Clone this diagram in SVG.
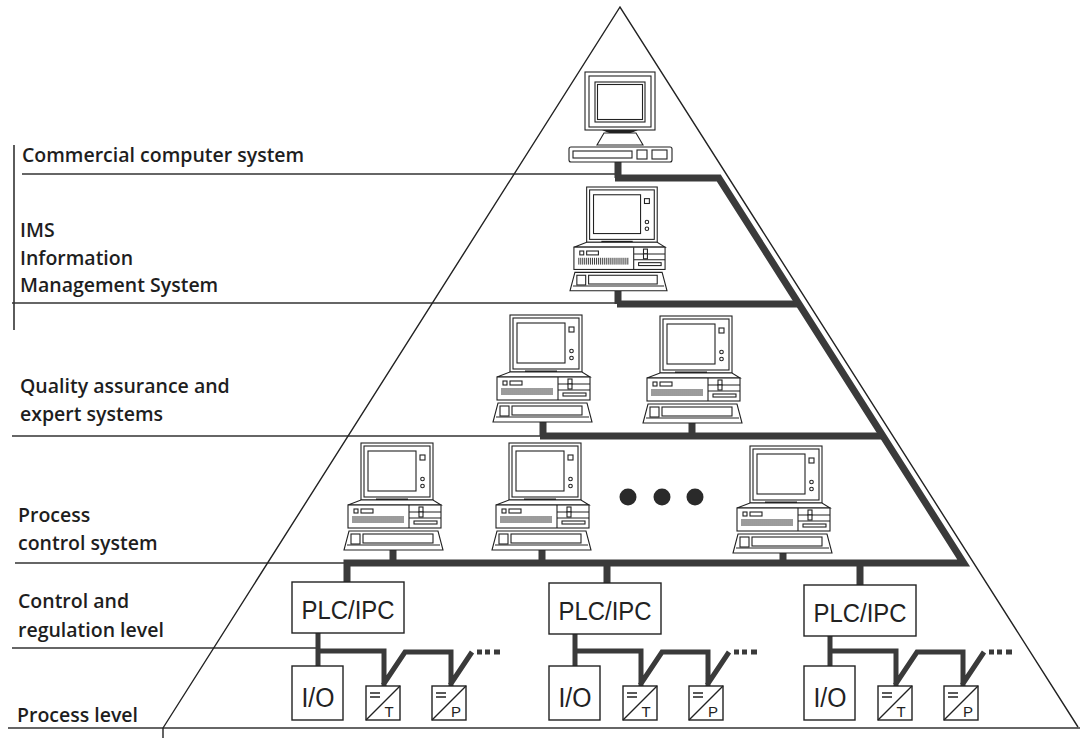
<svg xmlns="http://www.w3.org/2000/svg" xmlns:xlink="http://www.w3.org/1999/xlink" width="1084" height="738" viewBox="0 0 1084 738">
  <style>
    .thin { fill: none; stroke: #222; stroke-width: 1.4; }
    .level { fill: none; stroke: #333; stroke-width: 1.6; }
    .bus { fill: none; stroke: #3a3a3a; stroke-width: 7; stroke-linejoin: miter; stroke-miterlimit: 10; }
    .fbus { fill: none; stroke: #3a3a3a; stroke-width: 5; stroke-linejoin: miter; }
    .box { fill: #fff; stroke: #222; stroke-width: 1.4; }
    .pc { fill: #fff; stroke: #222; stroke-width: 1.1; }
    .label { font-family: "Open Sans", "Noto Sans", "DejaVu Sans", sans-serif; font-weight: 600; font-size: 19.5px; fill: #1e1e1e; }
    .dev { font-family: "Liberation Sans", Arial, sans-serif; fill: #222; text-anchor: middle; }
  </style>
  <defs>
    <!-- desktop PC: monitor, system unit and keyboard -->
    <g id="pc">
      <rect class="pc" x="17" y="0" width="72" height="57"/>
      <rect class="pc" x="20" y="3" width="66" height="51"/>
      <rect class="pc" x="24" y="8" width="48" height="40" stroke-width="2"/>
      <rect class="pc" x="76" y="12" width="5" height="5"/>
      <circle class="pc" cx="78.5" cy="36" r="1.8"/>
      <circle class="pc" cx="78.5" cy="43" r="1.8"/>
      <rect x="32" y="55.5" width="32" height="2.5" fill="#222"/>
      <polygon class="pc" points="17,57 89,57 97,62 4,62"/>
      <rect class="pc" x="4" y="62" width="93" height="23"/>
      <rect class="pc" x="10" y="66" width="4" height="4"/>
      <rect class="pc" x="17" y="66" width="12" height="4"/>
      <path d="M9,73v7M11,73v7M13,73v7M15,73v7M17,73v7M19,73v7M21,73v7M23,73v7M25,73v7M27,73v7M29,73v7M31,73v7M33,73v7M35,73v7M37,73v7M39,73v7M41,73v7M43,73v7M45,73v7M47,73v7M49,73v7M51,73v7M53,73v7M55,73v7M57,73v7M59,73v7" stroke="#222" stroke-width="0.9"/>
      <path class="pc" d="M65,62V85M65,69H97M65,75H97"/>
      <rect class="pc" x="75" y="64" width="4" height="5"/>
      <rect class="pc" x="75" y="69" width="4" height="5"/>
      <rect class="pc" x="70" y="78" width="23" height="3"/>
      <polygon class="pc" points="5,88 94,88 99,107 0,107"/>
      <path class="pc" d="M3,102H96"/>
      <rect class="pc" x="7" y="91" width="9" height="10"/>
      <rect class="pc" x="19" y="91" width="70" height="9"/>
    </g>
    <!-- signal converter box with diagonal and "=" -->
    <g id="conv">
      <rect class="box" x="0" y="0" width="34" height="34"/>
      <path class="thin" d="M0,34L34,0M4,7H14M4,11H14"/>
    </g>
  </defs>

  <rect width="1084" height="738" fill="#fff"/>

  <!-- level separators -->
  <g id="levels">
    <path class="level" d="M14,145V330" stroke="#888" stroke-width="1"/>
    <path class="level" d="M22,174H615"/>
    <path class="level" d="M12,303H617"/>
    <path class="level" d="M12,436H540"/>
    <path class="level" d="M15,563H347"/>
    <path class="level" d="M12,648H318"/>
    <path class="level" d="M8,728H1080" stroke-width="2"/>
    <path class="thin" d="M163,728V738" stroke-width="1"/>
  </g>

  <!-- pyramid outline -->
  <g id="pyramid">
    <path class="thin" d="M163,728L620,7L1078,727"/>
  </g>

  <!-- level labels -->
  <g id="labels">
    <text class="label" x="22" y="162">Commercial computer system</text>
    <text class="label" x="20" y="237">IMS</text>
    <text class="label" x="20" y="265">Information</text>
    <text class="label" x="20" y="292">Management System</text>
    <text class="label" x="20" y="393">Quality assurance and</text>
    <text class="label" x="20" y="421">expert systems</text>
    <text class="label" x="18" y="522">Process</text>
    <text class="label" x="18" y="550">control system</text>
    <text class="label" x="18" y="608">Control and</text>
    <text class="label" x="18" y="637">regulation level</text>
    <text class="label" x="17" y="722">Process level</text>
  </g>

  <!-- network connections -->
  <g id="connectors">
    <path class="bus" d="M615,178H718.8L963.7,563H347V582"/>
    <path class="bus" d="M617,304H799"/>
    <path class="bus" d="M540,436H883"/>
    <path class="bus" d="M618,162V178M618,291V304M543,422V436M692,423V436M393,550V563M542,550V563M783,553V563M607,563V583M860,563V585"/>
    <g id="fieldbus-1">
      <path class="fbus" d="M318,633V666M318,651H384V686M383,685L405,652H451V686M450,685L472,652"/>
      <path class="fbus" d="M477,652H482M485,652H490M494,652H500"/>
    </g>
    <g id="fieldbus-2" transform="translate(257,0)">
      <path class="fbus" d="M318,633V666M318,651H384V686M383,685L405,652H451V686M450,685L472,652"/>
      <path class="fbus" d="M477,652H482M485,652H490M494,652H500"/>
    </g>
    <g id="fieldbus-3" transform="translate(512,0)">
      <path class="fbus" d="M318,633V666M318,651H384V686M383,685L405,652H451V686M450,685L472,652"/>
      <path class="fbus" d="M477,652H482M485,652H490M494,652H500"/>
    </g>
  </g>

  <!-- commercial computer: flat screen terminal -->
  <g id="commercial-computer">
    <rect class="pc" x="585" y="72" width="70" height="58"/>
    <rect class="pc" x="589" y="76" width="62" height="51"/>
    <rect class="pc" x="595" y="82" width="50" height="40" stroke-width="1.6"/>
    <rect class="pc" x="597.5" y="84.5" width="45" height="35"/>
    <path d="M602,130Q620,139 638,130Z" fill="#222"/>
    <polygon class="pc" points="604,133 636,133 643,145 597,145"/>
    <rect class="pc" x="569" y="147" width="103" height="15" rx="2"/>
    <rect class="pc" x="573" y="151" width="59" height="7"/>
    <rect class="pc" x="637" y="150" width="10" height="9"/>
    <rect class="pc" x="652" y="150" width="15" height="9"/>
  </g>

  <g id="ims-computer"><use xlink:href="#pc" href="#pc" transform="translate(570,187) scale(0.98,0.97)"/></g>
  <g id="qa-computer-1"><use xlink:href="#pc" href="#pc" transform="translate(493,315)"/></g>
  <g id="qa-computer-2"><use xlink:href="#pc" href="#pc" transform="translate(643,316)"/></g>
  <g id="pcs-computer-1"><use xlink:href="#pc" href="#pc" transform="translate(344,443)"/></g>
  <g id="pcs-computer-2"><use xlink:href="#pc" href="#pc" transform="translate(492,443)"/></g>
  <g id="pcs-computer-3"><use xlink:href="#pc" href="#pc" transform="translate(733,446)"/></g>
  <g id="more-computers" fill="#2a2a2a">
    <circle cx="628" cy="497" r="8.5"/>
    <circle cx="662" cy="497" r="8.5"/>
    <circle cx="695" cy="497" r="8.5"/>
  </g>

  <!-- controllers with their I/O and converters -->
  <g id="plc-1">
    <rect class="box" x="292" y="582" width="112" height="51"/>
    <text class="dev" x="348" y="619" font-size="25" textLength="93" lengthAdjust="spacingAndGlyphs">PLC/IPC</text>
  </g>
  <g id="io-1">
    <rect class="box" x="292" y="666" width="51" height="54"/>
    <text class="dev" x="318" y="707" font-size="27" textLength="33" lengthAdjust="spacingAndGlyphs">I/O</text>
  </g>
  <g id="conv-t-1"><use xlink:href="#conv" href="#conv" transform="translate(366,686)"/><text class="dev" x="389" y="717" font-size="15">T</text></g>
  <g id="conv-p-1"><use xlink:href="#conv" href="#conv" transform="translate(432,686)"/><text class="dev" x="456" y="717" font-size="15">P</text></g>

  <g id="plc-2">
    <rect class="box" x="549" y="583" width="112" height="51"/>
    <text class="dev" x="605" y="620" font-size="25" textLength="93" lengthAdjust="spacingAndGlyphs">PLC/IPC</text>
  </g>
  <g id="io-2">
    <rect class="box" x="549" y="666" width="51" height="54"/>
    <text class="dev" x="575" y="707" font-size="27" textLength="33" lengthAdjust="spacingAndGlyphs">I/O</text>
  </g>
  <g id="conv-t-2"><use xlink:href="#conv" href="#conv" transform="translate(623,686)"/><text class="dev" x="646" y="717" font-size="15">T</text></g>
  <g id="conv-p-2"><use xlink:href="#conv" href="#conv" transform="translate(689,686)"/><text class="dev" x="713" y="717" font-size="15">P</text></g>

  <g id="plc-3">
    <rect class="box" x="804" y="585" width="112" height="51"/>
    <text class="dev" x="860" y="622" font-size="25" textLength="93" lengthAdjust="spacingAndGlyphs">PLC/IPC</text>
  </g>
  <g id="io-3">
    <rect class="box" x="804" y="666" width="51" height="54"/>
    <text class="dev" x="830" y="707" font-size="27" textLength="33" lengthAdjust="spacingAndGlyphs">I/O</text>
  </g>
  <g id="conv-t-3"><use xlink:href="#conv" href="#conv" transform="translate(878,686)"/><text class="dev" x="901" y="717" font-size="15">T</text></g>
  <g id="conv-p-3"><use xlink:href="#conv" href="#conv" transform="translate(944,686)"/><text class="dev" x="968" y="717" font-size="15">P</text></g>
</svg>
